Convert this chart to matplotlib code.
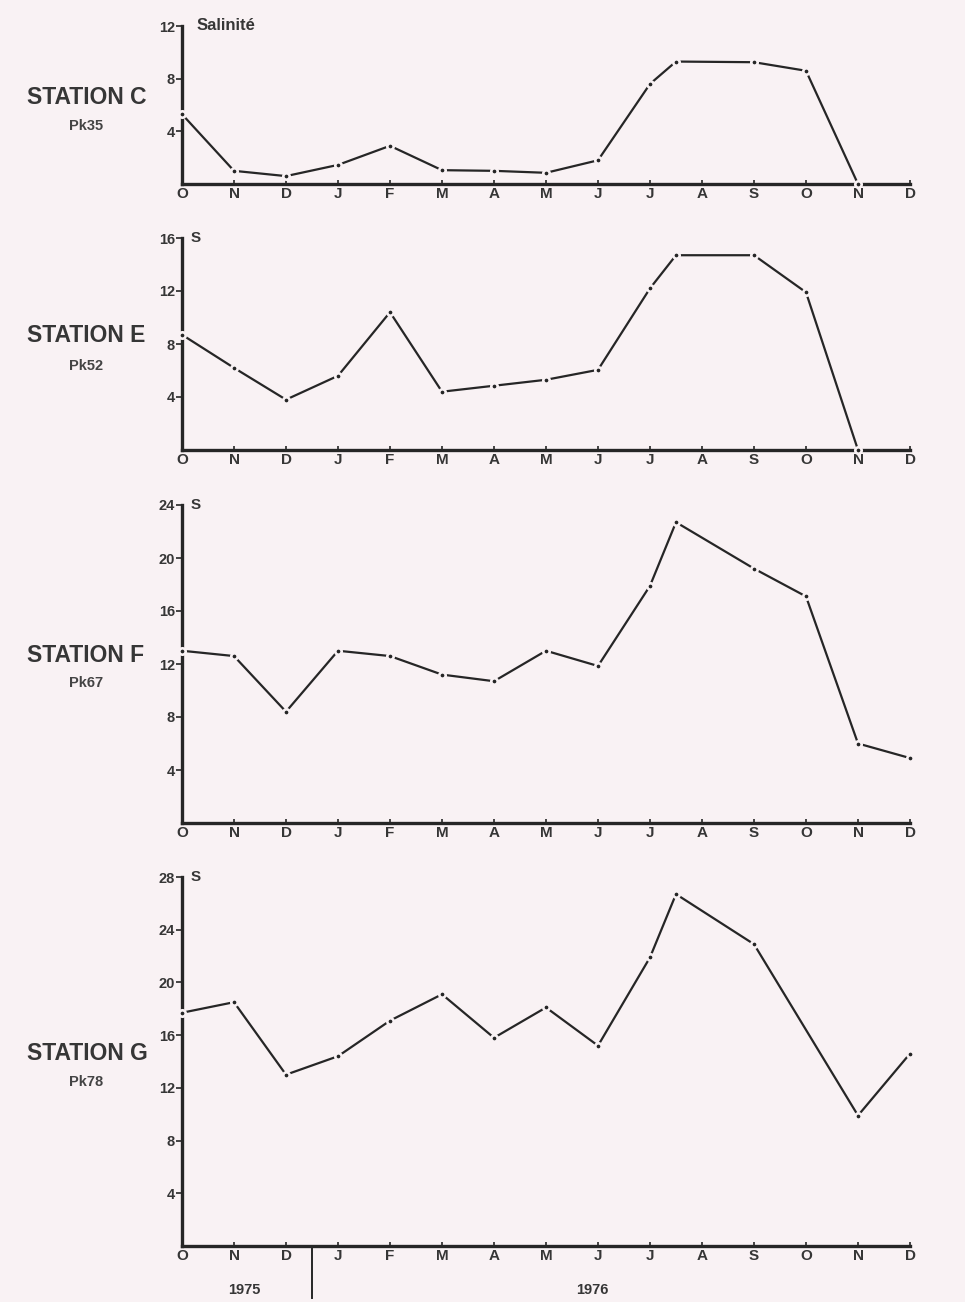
import numpy as np
import matplotlib
matplotlib.use("Agg")
import matplotlib.pyplot as plt

plt.rcParams['font.family'] = ['Liberation Sans', 'DejaVu Sans']

bg = '#f9f2f4'
ink = '#262626'
txt = '#363636'

# months Oct 1975 -> Dec 1976, one unit per month
month_labels = ['O', 'N', 'D', 'J', 'F', 'M', 'A', 'M', 'J', 'J', 'A', 'S', 'O', 'N', 'D']

# sampling dates (month index) and salinity per station
c_t = [0, 1, 2, 3, 4, 5, 6, 7, 8, 9, 9.5, 11, 12, 13]
c_s = [5.3, 1.0, 0.6, 1.45, 2.9, 1.05, 1.0, 0.85, 1.8, 7.6, 9.3, 9.25, 8.6, 0.0]

e_t = [0, 1, 2, 3, 4, 5, 6, 7, 8, 9, 9.5, 11, 12, 13]
e_s = [8.7, 6.2, 3.8, 5.6, 10.4, 4.4, 4.85, 5.3, 6.05, 12.2, 14.7, 14.7, 11.9, 0.0]

f_t = [0, 1, 2, 3, 4, 5, 6, 7, 8, 9, 9.5, 11, 12, 13, 14]
f_s = [13.0, 12.6, 8.4, 13.0, 12.6, 11.2, 10.7, 13.0, 11.85, 17.9, 22.7, 19.2, 17.1, 6.0, 4.9]

g_t = [0, 1, 2, 3, 4, 5, 6, 7, 8, 9, 9.5, 11, 13, 14]
g_s = [17.7, 18.5, 13.0, 14.4, 17.1, 19.1, 15.8, 18.1, 15.2, 21.9, 26.7, 22.9, 9.9, 14.6]

stations = ['STATION C', 'STATION E', 'STATION F', 'STATION G']
pks = ['Pk35', 'Pk52', 'Pk67', 'Pk78']
ymax = [12, 16, 24, 28]
ylabels = ['Salinité', 'S', 'S', 'S']
series = [(c_t, c_s), (e_t, e_s), (f_t, f_s), (g_t, g_s)]

year_split = 2.5
years = [('1975', 1.2), ('1976', 7.9)]

W, H = 965, 1302
fig = plt.figure(figsize=(W / 100, H / 100), dpi=100, facecolor=bg)

# axes boxes in pixels: (zero line y, top y), station text y, pk text y
boxes = [(184, 26, 97, 126), (450, 238, 335, 366), (823, 505, 656, 683), (1246, 877, 1053, 1082)]
x0, x1 = 182, 910

for i, (t, s) in enumerate(series):
    yb, yt, ys, yp = boxes[i]
    ax = fig.add_axes([x0 / W, 1 - yb / H, (x1 - x0) / W, (yb - yt) / H])
    ax.set_facecolor('none')
    ax.plot(t, s, '-', color=ink, lw=1.6, marker='o', ms=4.6,
            mfc=ink, mec=bg, mew=1.9, clip_on=False, zorder=3)
    ax.set_xlim(0, 14)
    ax.set_ylim(0, ymax[i])
    ax.set_xticks(np.arange(15))
    ax.set_xticklabels(month_labels, fontsize=11, fontweight='bold', color=txt)
    ax.set_yticks(np.arange(4, ymax[i] + 1, 4))
    ax.set_yticklabels([str(v) for v in range(4, ymax[i] + 1, 4)], fontsize=10.5,
                       fontweight='bold', color=txt)
    ax.tick_params(axis='x', direction='in', length=3, width=1.2, pad=2, color=ink)
    ax.tick_params(axis='y', length=4, width=1.2, pad=1, color=ink)
    for side in ['top', 'right']:
        ax.spines[side].set_visible(False)
    for side in ['left', 'bottom']:
        ax.spines[side].set_linewidth(2.4)
        ax.spines[side].set_color(ink)
    ax.text(0.012 if i else 0.02, 1.0, ylabels[i], transform=ax.transAxes,
            fontsize=12 if i == 0 else 11, fontweight='bold', color=txt,
            va='center', ha='left')
    fig.text(27 / W, 1 - ys / H, stations[i], fontsize=16.5, fontweight='bold',
             color=txt, va='center', ha='left')
    fig.text(86 / W, 1 - yp / H, pks[i], fontsize=10.5, fontweight='bold',
             color='#444444', va='center', ha='center')

    if i == 3:
        trans = ax.get_xaxis_transform()
        ax.plot([year_split, year_split], [0, -0.14], color=ink, lw=1.4,
                transform=trans, clip_on=False)
        for lab, xm in years:
            ax.text(xm, -0.12, lab, transform=trans, fontsize=10.5, fontweight='bold',
                    color=txt, ha='center', va='center')

fig.savefig('out.png', dpi=100, facecolor=bg)
